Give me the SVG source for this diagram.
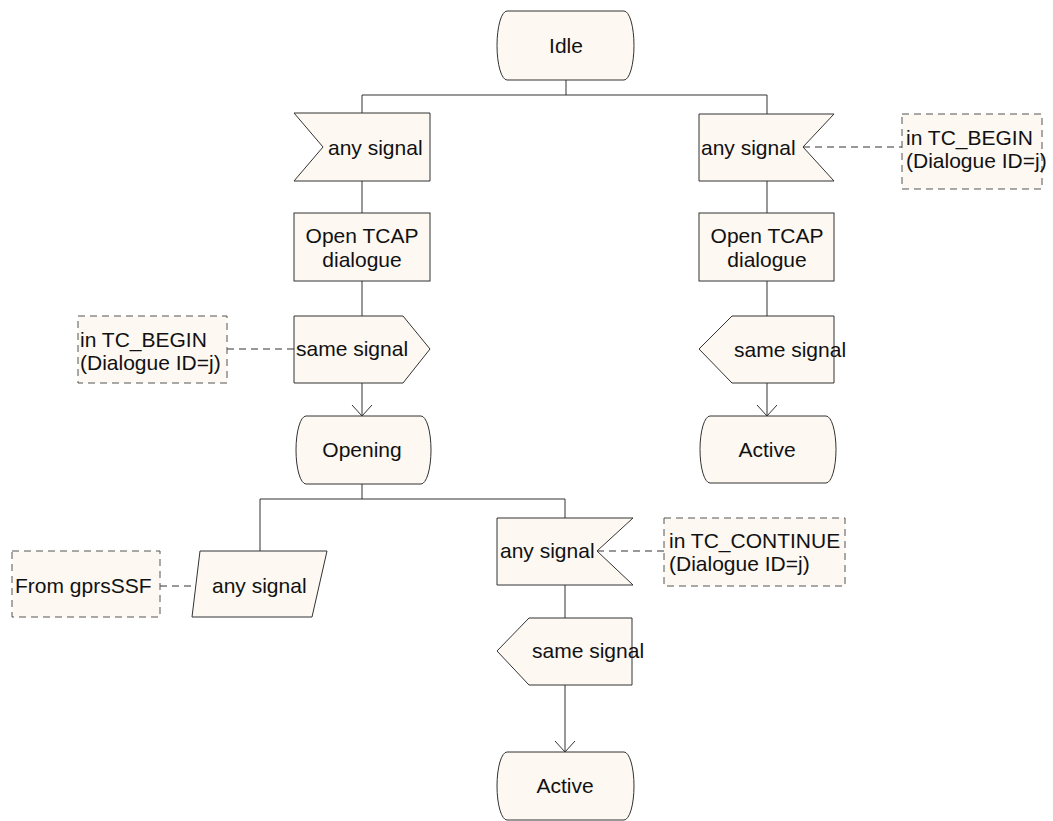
<svg xmlns="http://www.w3.org/2000/svg" width="1053" height="821" viewBox="0 0 1053 821">
  <defs>
    <style>
      .shape { fill: #fdf8f2; stroke: #333; stroke-width: 1; }
      .note { fill: #fdf8f2; stroke: #555; stroke-width: 1; stroke-dasharray: 7 5; }
      .link { fill: none; stroke: #333; stroke-width: 1; }
      .dash { fill: none; stroke: #333; stroke-width: 1; stroke-dasharray: 7 5; }
      text { font-family: "Liberation Sans", Arial, sans-serif; font-size: 21px; fill: #111; }
      .c { text-anchor: middle; }
    </style>
    <!-- open V arrowhead, drawn along +x so orient="auto" points it down the line -->
    <marker id="vee" viewBox="0 0 12 22" refX="11" refY="11" markerWidth="12" markerHeight="22" markerUnits="userSpaceOnUse" orient="auto">
      <path d="M0 1 L11 11 L0 21" fill="none" stroke="#333" stroke-width="1"/>
    </marker>
  </defs>

  <!-- connectors -->
  <g id="connectors">
    <path class="link" d="M566 80 V95 M362 95 H767 M362 95 V113 M767 95 V114"/>
    <path class="link" d="M362 181 V213 M362 281 V316"/>
    <path class="link" d="M767 181 V213 M767 281 V316"/>
    <path class="link" d="M362 383 V416" marker-end="url(#vee)"/>
    <path class="link" d="M767 383 V416" marker-end="url(#vee)"/>
    <path class="link" d="M362 484 V499 M260 499 H565 M260 499 V551 M565 499 V518"/>
    <path class="link" d="M565 585 V618"/>
    <path class="link" d="M565 685 V752" marker-end="url(#vee)"/>
    <path class="dash" d="M803 147 H902"/>
    <path class="dash" d="M227 349 H294"/>
    <path class="dash" d="M160 586 H197"/>
    <path class="dash" d="M597 551 H664"/>
  </g>

  <!-- states -->
  <g id="idle">
    <path class="shape" d="M507 11 H624 A10 34.5 0 0 1 624 80 H507 A10 34.5 0 0 1 507 11 Z"/>
    <text class="c" x="566" y="53">Idle</text>
  </g>
  <g id="opening">
    <path class="shape" d="M306 416 H421 A10 34 0 0 1 421 484 H306 A10 34 0 0 1 306 416 Z"/>
    <text class="c" x="362" y="457">Opening</text>
  </g>
  <g id="active-1">
    <path class="shape" d="M710 416 H826 A10 33.5 0 0 1 826 483 H710 A10 33.5 0 0 1 710 416 Z"/>
    <text class="c" x="767" y="457">Active</text>
  </g>
  <g id="active-2">
    <path class="shape" d="M507 752 H624 A10 34 0 0 1 624 820 H507 A10 34 0 0 1 507 752 Z"/>
    <text class="c" x="565" y="793">Active</text>
  </g>

  <!-- left branch from Idle -->
  <g id="input-any-left">
    <path class="shape" d="M294 113 H430 V181 H294 L323 147 Z"/>
    <text x="328" y="155">any signal</text>
  </g>
  <g id="task-open-left">
    <rect class="shape" x="294" y="213" width="136" height="68"/>
    <text class="c" x="362" y="243">Open TCAP</text>
    <text class="c" x="362" y="267">dialogue</text>
  </g>
  <g id="output-same-left">
    <path class="shape" d="M294 316 H403 L430 349 L403 383 H294 Z"/>
    <text x="296" y="356">same signal</text>
  </g>
  <g id="note-begin-left">
    <rect class="note" x="78" y="316" width="149" height="67"/>
    <text x="80" y="347">in TC_BEGIN</text>
    <text x="80" y="370">(Dialogue ID=j)</text>
  </g>

  <!-- right branch from Idle -->
  <g id="input-any-right">
    <path class="shape" d="M699 114 H834 L803 147 L834 181 H699 Z"/>
    <text x="701" y="155">any signal</text>
  </g>
  <g id="note-begin-right">
    <rect class="note" x="902" y="114" width="140" height="75"/>
    <text x="906" y="145">in TC_BEGIN</text>
    <text x="906" y="168">(Dialogue ID=j)</text>
  </g>
  <g id="task-open-right">
    <rect class="shape" x="699" y="213" width="135" height="68"/>
    <text class="c" x="767" y="243">Open TCAP</text>
    <text class="c" x="767" y="267">dialogue</text>
  </g>
  <g id="output-same-right">
    <path class="shape" d="M699 349 L732 316 H834 V383 H732 Z"/>
    <text x="734" y="357">same signal</text>
  </g>

  <!-- branches from Opening -->
  <g id="input-gprsssf">
    <path class="shape" d="M200 551 H327 L312 617 H192 Z"/>
    <text x="212" y="593">any signal</text>
  </g>
  <g id="note-gprsssf">
    <rect class="note" x="12" y="551" width="148" height="66"/>
    <text x="15" y="593">From gprsSSF</text>
  </g>
  <g id="input-any-continue">
    <path class="shape" d="M497 518 H633 L597 551 L633 585 H497 Z"/>
    <text x="500" y="558">any signal</text>
  </g>
  <g id="note-continue">
    <rect class="note" x="664" y="518" width="181" height="68"/>
    <text x="669" y="548">in TC_CONTINUE</text>
    <text x="669" y="571">(Dialogue ID=j)</text>
  </g>
  <g id="output-same-continue">
    <path class="shape" d="M497 651 L529 618 H632 V685 H529 Z"/>
    <text x="532" y="658">same signal</text>
  </g>
</svg>
